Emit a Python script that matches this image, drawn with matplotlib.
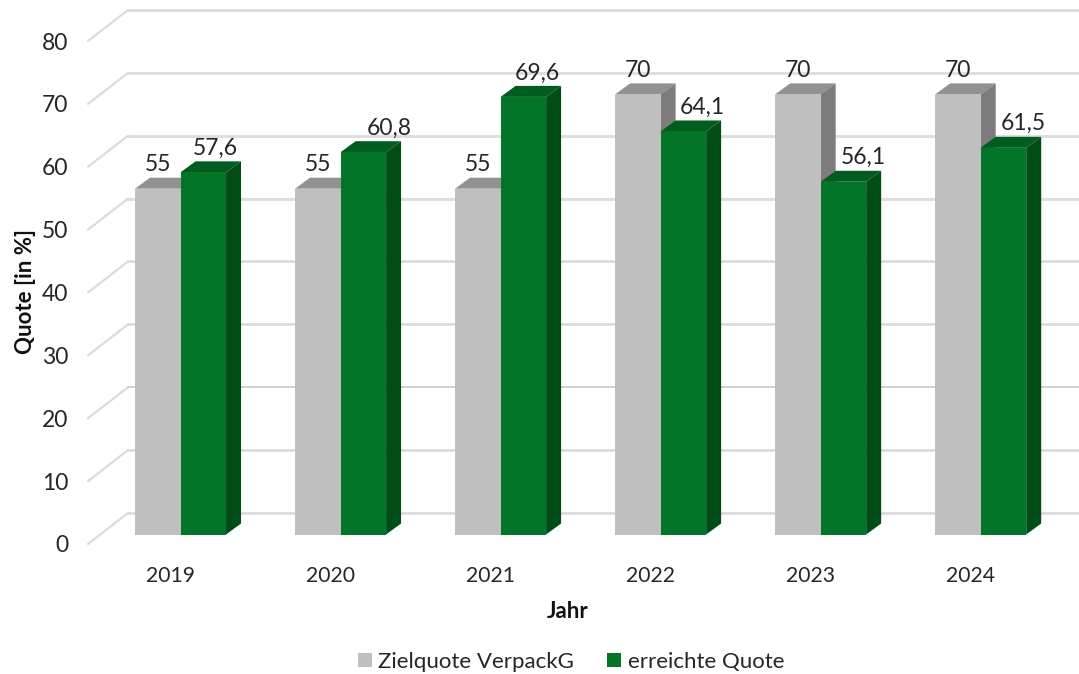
import matplotlib
matplotlib.use("Agg")
import matplotlib.pyplot as plt
from matplotlib.patches import Polygon, Patch

plt.rcParams['font.family'] = ['Lato', 'DejaVu Sans']

years = ["2019", "2020", "2021", "2022", "2023", "2024"]
target = [55, 55, 55, 70, 70, 70]
achieved = [57.6, 60.8, 69.6, 64.1, 56.1, 61.5]
target_labels = ["55", "55", "55", "70", "70", "70"]
achieved_labels = ["57,6", "60,8", "69,6", "64,1", "56,1", "61,5"]
y_ticks = [0, 10, 20, 30, 40, 50, 60, 70, 80]

W, H = 1079, 674
fig = plt.figure(figsize=(W / 100, H / 100), dpi=100)
# axes = the front plane of the pseudo-3D box
L, R, B, T = 88, 1050, 544, 41
ax = fig.add_axes([L / W, 1 - B / H, (R - L) / W, (B - T) / H])
ax.set_xlim(-0.5125, 5.4988)
ax.set_ylim(0, 80)
ax.patch.set_visible(False)
for s in ax.spines.values():
    s.set_visible(False)

px = 1 / 160.0          # x data per pixel
py = 80 / 503.0         # y data per pixel
wall_dx, wall_dy = 40 * px, 31 * py
bar_dx, bar_dy = 10.5 * px, 9.5 * py
depth_x, depth_y = 15 * px, 11 * py
bar_w = 45.5 * px

GRID = "#dcdcdc"
for v in y_ticks:
    ax.plot([-0.5125, -0.5125 + wall_dx], [v, v + wall_dy], color=GRID, lw=1.6,
            clip_on=False, zorder=1, solid_capstyle="round")
    ax.plot([-0.5125 + wall_dx, 6.2], [v + wall_dy, v + wall_dy],
            color="#c9c9c9" if v == 20 else GRID, lw=1.2 if v == 20 else 2.0,
            clip_on=False, zorder=1)


def box(x_left, value, front, top, side, z):
    x0 = x_left + bar_dx
    x1 = x0 + bar_w
    base = bar_dy
    ytop = base + value
    ax.bar(x0, value, bar_w, bottom=base, align="edge", color=front,
           linewidth=0, clip_on=False, zorder=z + 0.2)
    ax.add_patch(Polygon([(x0, ytop), (x1, ytop), (x1 + depth_x, ytop + depth_y),
                          (x0 + depth_x, ytop + depth_y)], closed=True, facecolor=top,
                         edgecolor="none", clip_on=False, zorder=z))
    ax.add_patch(Polygon([(x1, base), (x1 + depth_x, base + depth_y),
                          (x1 + depth_x, ytop + depth_y), (x1, ytop)], closed=True,
                         facecolor=side, edgecolor="none", clip_on=False, zorder=z + 0.1))
    return (x0 + x1) / 2, ytop


label_dx = [12.5, 26, 14, 19, 20, 20]
for i in range(len(years)):
    cx, ty = box(i - bar_w, target[i], "#bfbfbf", "#919191", "#7d7d7d", 3)
    ax.text(cx, ty + 24 * py, target_labels[i], ha="center", va="center",
            fontsize=16.5, color="#262626", zorder=8, clip_on=False)
    cx, ty = box(i, achieved[i], "#027529", "#015c20", "#014d18", 4)
    ax.text(cx + label_dx[i] * px, ty + 24 * py, achieved_labels[i], ha="center", va="center",
            fontsize=16.5, color="#262626", zorder=8, clip_on=False)

ax.set_xticks(range(len(years)))
ax.set_xticklabels(years, fontsize=15.2, color="#262626")
ax.set_yticks(y_ticks)
ax.set_yticklabels([str(v) for v in y_ticks], fontsize=16.5, color="#262626")
ax.tick_params(axis="both", length=0)
ax.tick_params(axis="x", pad=16)
ax.tick_params(axis="y", pad=14)

fig.text(26 / W, 1 - 291 / H, "Quote [in %]", rotation=90, ha="center", va="center",
         fontsize=16, fontweight="bold", color="#111111")
fig.text(568 / W, 1 - 612 / H, "Jahr", ha="center", va="center",
         fontsize=16, fontweight="bold", color="#111111")

handles = [Patch(facecolor="#bfbfbf", label="Zielquote VerpackG"),
           Patch(facecolor="#027529", label="erreichte Quote")]
fig.legend(handles=handles, ncol=2, frameon=False, loc="center",
           bbox_to_anchor=(571 / W, 1 - 662 / H), fontsize=16, labelcolor="#262626",
           handlelength=0.63, handleheight=0.63, handletextpad=0.28, columnspacing=1.5)

fig.savefig("out.png", dpi=100)
